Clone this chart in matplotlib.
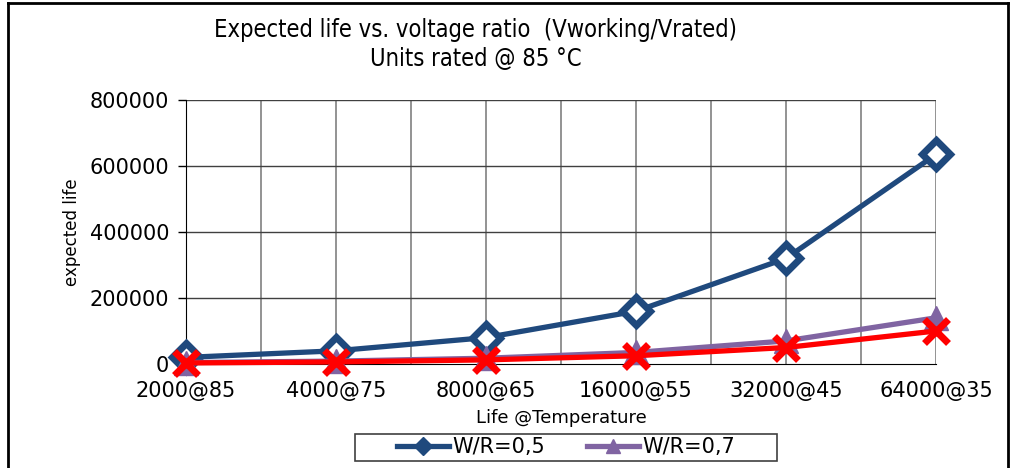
import matplotlib.pyplot as plt
from matplotlib.lines import Line2D
from matplotlib.patches import Rectangle

# Data
categories = ["2000@85", "4000@75", "8000@65", "16000@55", "32000@45", "64000@35"]
wr_05 = [20000, 40000, 80000, 160000, 320000, 635000]
wr_07 = [4400, 8800, 17500, 35000, 70000, 140000]
wr_09 = [3100, 6250, 12500, 25000, 50000, 100000]
y_ticks = [0, 200000, 400000, 600000, 800000]

plt.rcParams["font.family"] = ["DejaVu Sans"]

fig = plt.figure(figsize=(10.12, 4.68), dpi=100)
ax = fig.add_axes([186 / 1012, 1 - 364 / 468, 750 / 1012, 264 / 468])

x = list(range(len(categories)))

# Grid first so the lines sit above it
for xv in [i * 0.5 for i in range(1, 11)]:
    ax.axvline(xv, color="#808080", lw=1.2, zorder=1)
for yv in y_ticks[1:]:
    ax.axhline(yv, color="#404040", lw=1.0, zorder=1)

ax.plot(x, wr_05, color="#1F497D", lw=3.8, marker="D", ms=14, mfc="white",
        mec="#1F497D", mew=5, label="W/R=0,5", zorder=3, clip_on=False)
ax.plot(x, wr_07, color="#8064A2", lw=3.8, marker="^", ms=17, mfc="#8064A2",
        mec="#8064A2", label="W/R=0,7", zorder=4, clip_on=False)
ax.plot(x, wr_09, color="#FF0000", lw=3.8, marker="x", ms=17, mew=5,
        zorder=5, clip_on=False)

ax.set_xlim(0, 5)
ax.set_ylim(0, 800000)
ax.set_yticks(y_ticks)
ax.set_yticklabels([str(v) for v in y_ticks], fontsize=15)
ax.set_xticks(x)
ax.set_xticklabels(categories, fontsize=15)
ax.tick_params(axis="y", length=6, width=1, pad=6)
ax.tick_params(axis="x", length=0, pad=12)

for s in ["top", "right"]:
    ax.spines[s].set_visible(False)
ax.spines["left"].set_color("black")
ax.spines["bottom"].set_color("black")

ax.set_ylabel("expected life", fontsize=12, labelpad=6)
ax.set_xlabel("Life @Temperature", fontsize=13, labelpad=6)

fig.text(0.47, 0.935, "Expected life vs. voltage ratio  (Vworking/Vrated)",
         ha="center", va="center", fontsize=17, fontstretch="condensed")
fig.text(0.47, 0.875, "Units rated @ 85 \u00b0C", ha="center", va="center",
         fontsize=17, fontstretch="condensed")

handles = [
    Line2D([], [], color="#1F497D", lw=3.8, marker="D", ms=9, mfc="#1F497D", mec="#1F497D"),
    Line2D([], [], color="#8064A2", lw=3.8, marker="^", ms=10, mfc="#8064A2", mec="#8064A2"),
]
leg = fig.legend(handles, ["W/R=0,5", "W/R=0,7"], loc="center",
                 bbox_to_anchor=(566 / 1012, 1 - 447 / 468), ncol=2, fontsize=15,
                 frameon=False, handlelength=2.5, columnspacing=2.0,
                 handletextpad=0.15)
# legend box drawn separately for wider side padding
fig.add_artist(Rectangle((355 / 1012, 1 - 461 / 468), 422 / 1012, 27 / 468,
                         transform=fig.transFigure, fill=False,
                         edgecolor="#404040", lw=1.2))

# outer chart frame (bottom edge is outside the picture)
frame_kw = dict(color="black", lw=2.0, transform=fig.transFigure)
fig.add_artist(Line2D([8 / 1012, 8 / 1012], [0, 1 - 3 / 468], **frame_kw))
fig.add_artist(Line2D([8 / 1012, 1008 / 1012], [1 - 3 / 468, 1 - 3 / 468], **frame_kw))
fig.add_artist(Line2D([1008 / 1012, 1008 / 1012], [0, 1 - 3 / 468], **frame_kw))

fig.savefig("out.png", dpi=100)
